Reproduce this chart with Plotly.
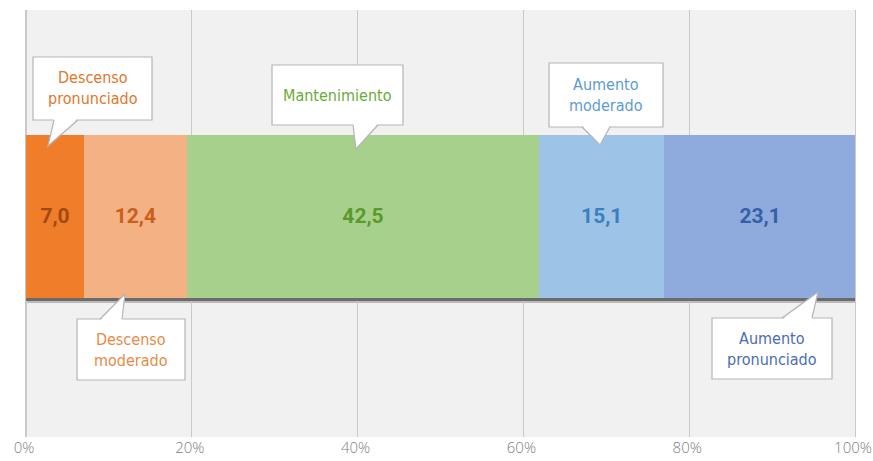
import plotly.graph_objects as go

# ---- data ----
categories = ["Descenso pronunciado", "Descenso moderado", "Mantenimiento",
              "Aumento moderado", "Aumento pronunciado"]
values = [7.0, 12.4, 42.5, 15.1, 23.1]
value_labels = ["7,0", "12,4", "42,5", "15,1", "23,1"]
tick_vals = [0, 20, 40, 60, 80, 100]
tick_text = ["0%", "20%", "40%", "60%", "80%", "100%"]

# ---- styles ----
bar_colors = ["#f07d2a", "#f4b183", "#a8d08d", "#9dc3e6", "#8faadc"]
value_colors = ["#a04b12", "#c9601a", "#5a9a2a", "#3a7fc0", "#3560a8"]
callout_colors = ["#e2762a", "#e88a45", "#6aaa3a", "#5b9bd5", "#4a6db5"]
callout_text = ["Descenso<br>pronunciado", "Descenso<br>moderado", "Mantenimiento",
                "Aumento<br>moderado", "Aumento<br>pronunciado"]

W, H = 873, 461
# plot area in screenshot pixels
L, R, T, B = 26, 855, 10, 437

def xd(px):
    return (px - L) / (R - L) * 100

def yp(py):
    return (B - py) / (B - T)

# callout layout in screenshot pixels: box (x0, y0, x1, y1), tail base (bx0, bx1), tip (tx, ty)
callouts = [
    dict(box=(33, 57, 152, 120), base=(54, 78), tip=(48, 146)),
    dict(box=(77, 319, 185, 380), base=(100, 122), tip=(125, 294)),
    dict(box=(272, 65, 403, 125), base=(353, 378), tip=(356, 149)),
    dict(box=(549, 63, 663, 127), base=(582, 610), tip=(600, 145)),
    dict(box=(712, 318, 832, 379), base=(782, 812), tip=(818, 292)),
]

fig = go.Figure()
for cat, v, lab, c, tc in zip(categories, values, value_labels, bar_colors, value_colors):
    fig.add_trace(go.Bar(
        x=[v], y=[0], orientation="h", name=cat, width=0.382,
        marker=dict(color=c, line=dict(width=0)),
        text=[lab], textposition="inside", insidetextanchor="middle",
        textangle=0, constraintext="none",
        textfont=dict(family="Roboto, Arial, sans-serif", size=21, color=tc, weight="bold"),
        hoverinfo="skip",
    ))

bar_bot_py = 298
shapes = []
total = sum(values)
shapes.append(dict(type="rect", xref="x", yref="paper", x0=0, x1=total,
                   y0=yp(bar_bot_py + 5), y1=yp(bar_bot_py),
                   fillcolor="rgba(120,120,120,0.45)", line=dict(width=0), layer="below"))
shapes.append(dict(type="rect", xref="x", yref="paper", x0=0, x1=total,
                   y0=yp(bar_bot_py + 3), y1=yp(bar_bot_py),
                   fillcolor="rgba(80,80,80,0.75)", line=dict(width=0), layer="above"))

annotations = []
border = "#b5b5b5"
for i, cfg in enumerate(callouts):
    x0, y0, x1, y1 = cfg["box"]
    bx0, bx1 = cfg["base"]
    tx, ty = cfg["tip"]
    shapes.append(dict(type="rect", xref="x", yref="paper",
                       x0=xd(x0), x1=xd(x1), y0=yp(y1), y1=yp(y0),
                       fillcolor="white", line=dict(color=border, width=1.2), layer="above"))
    by = y1 if ty > y1 else y0
    inset = -2 if ty > y1 else 2
    path_fill = (f"M {xd(bx0)},{yp(by + inset)} L {xd(tx)},{yp(ty)} "
                 f"L {xd(bx1)},{yp(by + inset)} Z")
    shapes.append(dict(type="path", xref="x", yref="paper", path=path_fill,
                       fillcolor="white", line=dict(width=0), layer="above"))
    path_line = (f"M {xd(bx0)},{yp(by)} L {xd(tx)},{yp(ty)} "
                 f"L {xd(bx1)},{yp(by)}")
    shapes.append(dict(type="path", xref="x", yref="paper", path=path_line,
                       fillcolor="rgba(0,0,0,0)", line=dict(color=border, width=1.2),
                       layer="above"))
    annotations.append(dict(
        x=xd((x0 + x1) / 2), y=yp((y0 + y1) / 2), xref="x", yref="paper",
        xanchor="center", yanchor="middle",
        text=callout_text[i], showarrow=False, align="center",
        font=dict(family="DejaVu Sans Condensed, Liberation Sans Narrow, Arial Narrow, sans-serif",
                  size=16, color=callout_colors[i]),
    ))

fig.update_layout(
    width=W, height=H,
    barmode="stack", showlegend=False,
    margin=dict(l=L, r=W - R, t=T, b=H - B, autoexpand=False),
    paper_bgcolor="white", plot_bgcolor="#f1f1f1",
    xaxis=dict(range=[0, 100], tickvals=tick_vals, ticktext=tick_text,
               showgrid=True, gridcolor="#c9c9c9", gridwidth=1,
               zeroline=True, zerolinecolor="#c9c9c9", zerolinewidth=1,
               showline=False, ticks="", automargin=False,
               ticklabeloverflow="allow", ticklabelshift=-2,
               tickfont=dict(family="Open Sans, sans-serif", size=15, color="#808080",
                             weight=300)),
    yaxis=dict(range=[-0.5164, 0.4836], visible=True, showticklabels=False,
               showgrid=False, zeroline=False, ticks="",
               showline=True, mirror=True, linecolor="#c9c9c9", linewidth=1,
               fixedrange=True, automargin=False),
    shapes=shapes, annotations=annotations,
)

fig.write_html(
    "out.html",
    config={"displayModeBar": False, "staticPlot": True},
    post_script="document.body.style.margin='0';document.body.style.overflow='hidden';",
)
